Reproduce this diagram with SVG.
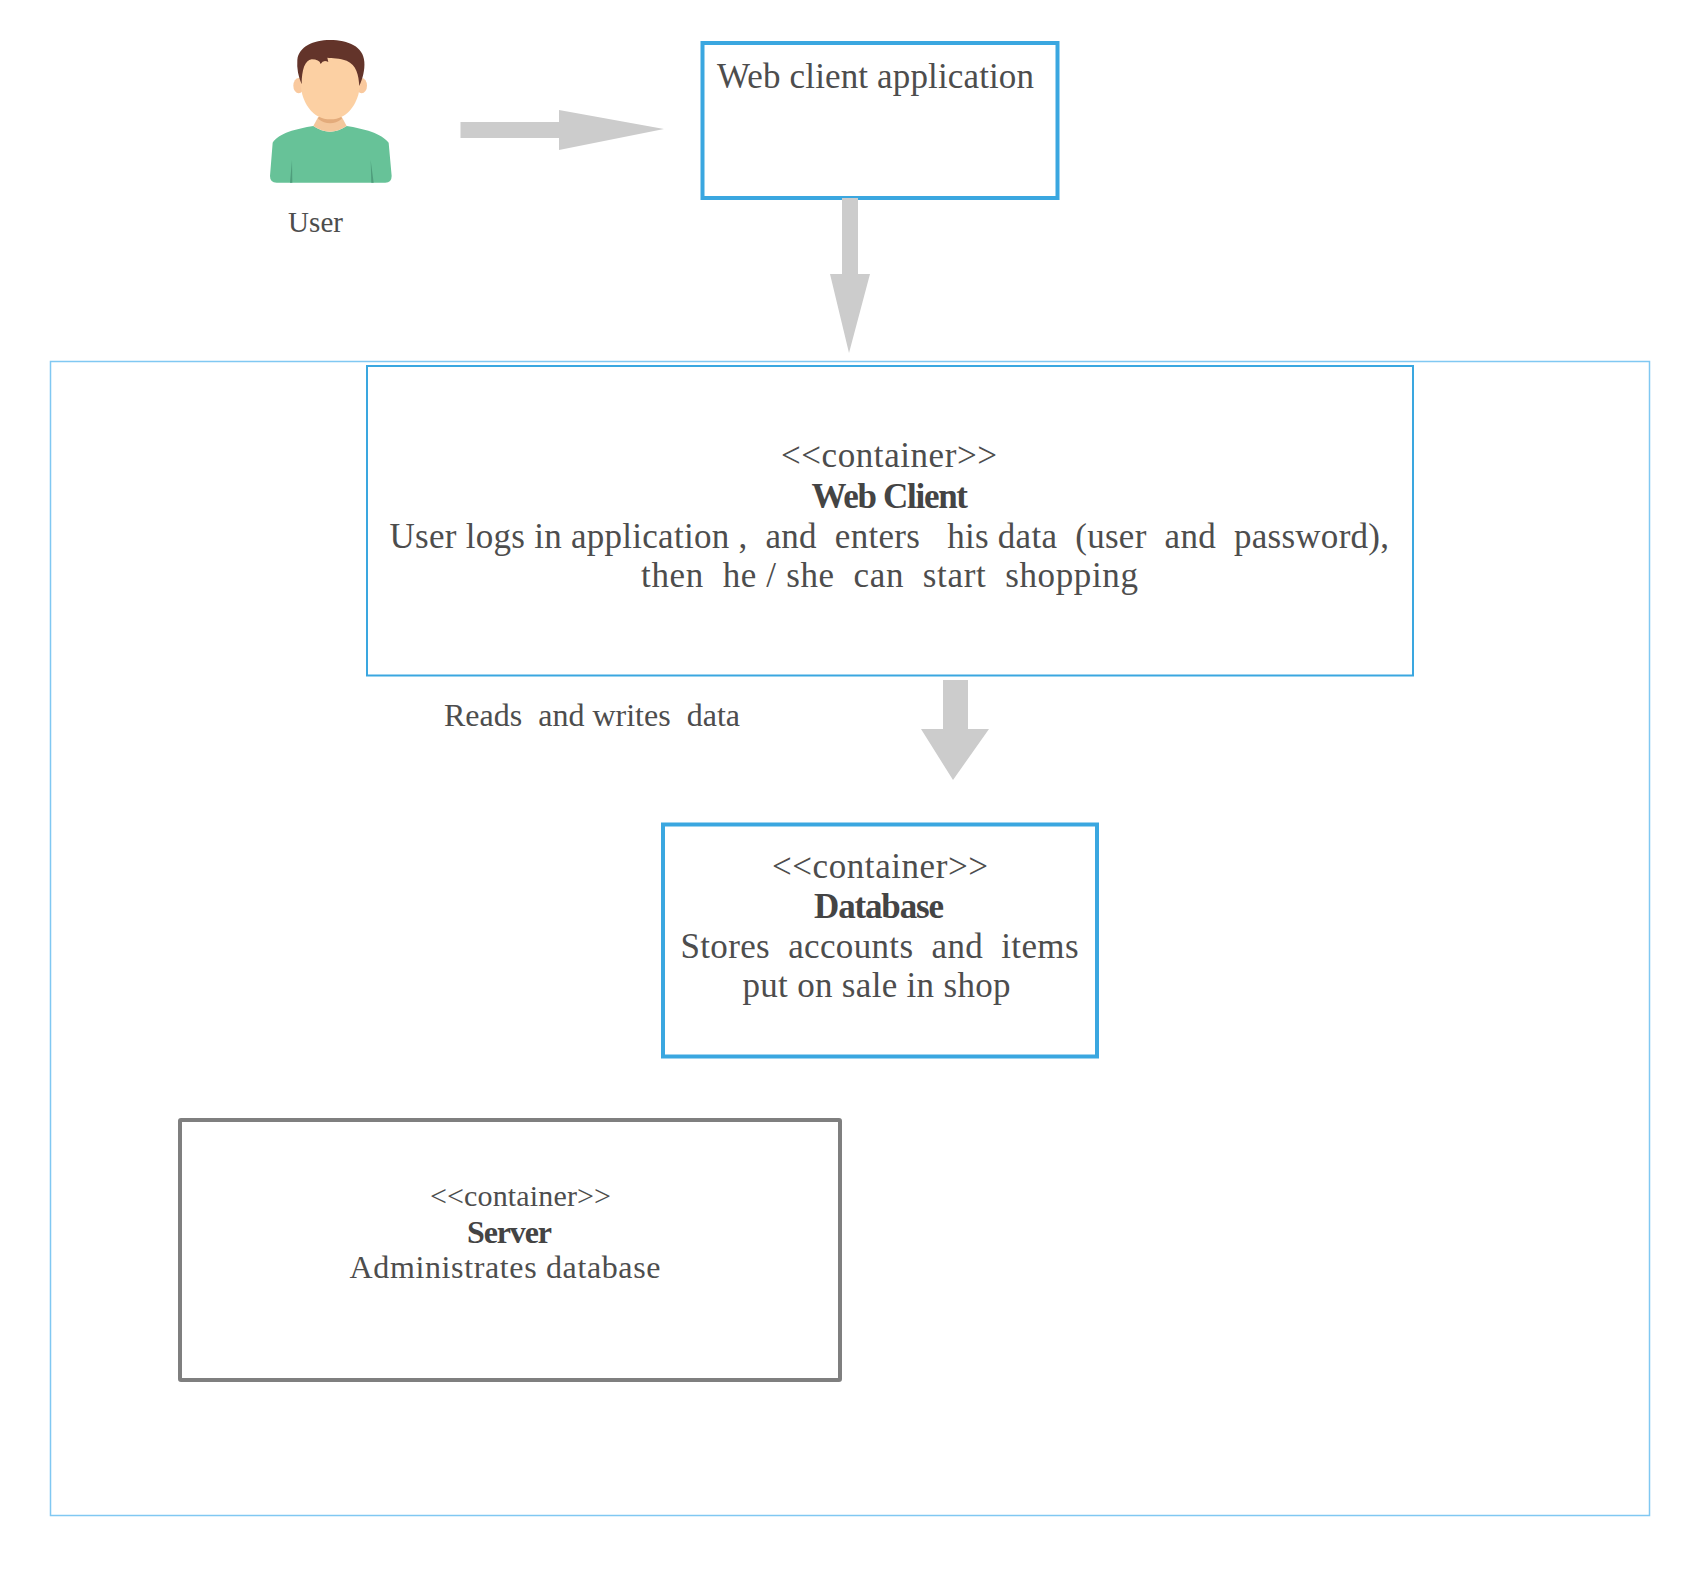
<svg xmlns="http://www.w3.org/2000/svg" width="1701" height="1573" viewBox="0 0 1701 1573">
<style>
text{font-family:"Liberation Serif","Times New Roman",serif;fill:#4d4d4d;white-space:pre}
.b{font-weight:700;fill:#444}
.l{font-size:35px}.m{font-size:32px}.s{font-size:30px}
.box{fill:#fff;stroke:#3aa7e0}
.arr{fill:#ccc}
</style>
<rect width="1701" height="1573" fill="#fff"/>
<g id="boundary"><rect x="50.500" y="361.500" width="1599" height="1154" fill="none" stroke="#80c8f2" stroke-width="1.500"/></g>
<g id="user">
<g transform="translate(250 20) scale(.3333)">
<path d="M190 318C140 326 85 340 68 368L60 468Q60 488 80 488H406Q425 488 425 468L416 368C395 340 340 326 290 318Q240 352 190 318Z" fill="#67c298"/>
<path d="M126 420L120 488H127ZM362 420L364 488H371Z" fill="#4f9d7c"/>
<path d="M205 290L190 318Q240 352 290 318L275 290Z" fill="#f4c79c"/>
<path d="M204 296Q240 324 276 296L270 285H210Z" fill="#e3ab7b"/>
<ellipse cx="146" cy="197" rx="16" ry="23" fill="#f9c99e"/>
<ellipse cx="335" cy="197" rx="16" ry="23" fill="#f9c99e"/>
<path d="M150 170C150 250 190 298 241 298C292 298 332 250 332 170C332 120 290 105 240 105C190 105 150 120 150 170Z" fill="#fcd0a3"/>
<path d="M155 193C145 170 140 145 142 120C146 80 190 60 240 60C295 60 340 80 343 125C345 150 338 175 328 198C326 165 320 135 290 122C270 114 245 115 232 113L235 126Q220 118 212 132Q208 118 185 118C165 120 155 150 155 193Z" fill="#63342a"/>
</g>
<text x="288" y="231.500" font-size="29" textLength="55">User</text>
</g>
<g id="web-client-application">
<rect class="box" x="702.500" y="43" width="355" height="155" stroke-width="4"/>
<text class="l" x="717" y="88" textLength="317">Web client application</text>
</g>
<g id="web-client">
<rect class="box" x="367" y="366" width="1046" height="309.500" stroke-width="2"/>
<text class="l" x="781" y="467" textLength="216">&lt;&lt;container&gt;&gt;</text>
<text class="l b" x="811.500" y="508" textLength="156.500">Web Client</text>
<text class="l" x="389.500" y="547.500" textLength="999.500">User logs in application ,  and  enters   his data  (user  and  password),</text>
<text class="l" x="641" y="587" textLength="497">then  he / she  can  start  shopping</text>
</g>
<g id="reads-label"><text class="m" x="444" y="726" textLength="296">Reads  and writes  data</text></g>
<g id="database">
<rect class="box" x="663" y="824.500" width="434" height="232" stroke-width="4"/>
<text class="l" x="772" y="877.500" textLength="216">&lt;&lt;container&gt;&gt;</text>
<text class="l b" x="814" y="918" textLength="130">Database</text>
<text class="l" x="680.500" y="958" textLength="398">Stores  accounts  and  items</text>
<text class="l" x="742.500" y="997" textLength="268">put on sale in shop</text>
</g>
<g id="server">
<rect x="180" y="1120" width="660" height="260" fill="#fff" stroke="#7f7f7f" stroke-width="4" rx="1"/>
<text class="s" x="430" y="1206" textLength="181">&lt;&lt;container&gt;&gt;</text>
<text class="m b" x="467" y="1242.500" textLength="85">Server</text>
<text class="m" x="349.500" y="1278" textLength="311">Administrates database</text>
</g>
<g id="connectors">
<polygon class="arr" points="460.500,122 559,122 559,110 664,129 559,150 559,138 460.500,138"/>
<polygon class="arr" points="842,198 858,198 858,274 870,274 849,353 830,274 842,274"/>
<polygon class="arr" points="943,680 968,680 968,729 989,729 953,780 921,729 943,729"/>
</g>
</svg>
